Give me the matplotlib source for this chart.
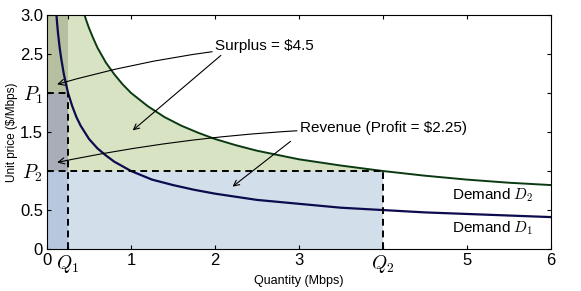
import matplotlib
matplotlib.use("Agg")
import matplotlib.pyplot as plt
import numpy as np

plt.rcParams['mathtext.fontset'] = 'cm'
plt.rcParams['font.family'] = ['Liberation Sans Narrow', 'Liberation Sans', 'DejaVu Sans']

# Demand curve D1
q_d1 = [0.11, 0.12, 0.13, 0.15, 0.17, 0.2, 0.25, 0.3, 0.35, 0.4, 0.5, 0.6, 0.7, 0.8, 1.0,
        1.25, 1.5, 1.75, 2.0, 2.5, 3.0, 3.5, 4.0, 4.5, 5.0, 5.5, 6.0]
p_d1 = [3.02, 2.89, 2.77, 2.58, 2.43, 2.24, 2.0, 1.83, 1.69, 1.58, 1.41, 1.29, 1.20, 1.12, 1.0,
        0.89, 0.82, 0.76, 0.71, 0.63, 0.58, 0.53, 0.5, 0.47, 0.45, 0.43, 0.41]
# Demand curve D2
q_d2 = [0.44, 0.47, 0.5, 0.55, 0.6, 0.7, 0.8, 0.9, 1.0, 1.2, 1.4, 1.6, 1.8, 2.0, 2.25, 2.5,
        3.0, 3.5, 4.0, 4.5, 5.0, 5.5, 6.0]
p_d2 = [3.02, 2.92, 2.83, 2.70, 2.58, 2.39, 2.24, 2.11, 2.0, 1.83, 1.69, 1.58, 1.49, 1.41, 1.33,
        1.26, 1.15, 1.07, 1.0, 0.94, 0.89, 0.85, 0.82]

Q1, P1 = 0.25, 2.0
Q2, P2 = 4.0, 1.0
x_ticks = [0, Q1, 1, 2, 3, Q2, 5, 6]
x_labels = ['0', r'$Q_1$', '1', '2', '3', r'$Q_2$', '5', '6']
y_ticks = [0, 0.5, P2, 1.5, P1, 2.5, 3.0]
y_labels = ['0', '0.5', r'$P_2$', '1.5', r'$P_1$', '2.5', '3.0']

fig = plt.figure(figsize=(5.81, 2.91), dpi=100)
ax = fig.add_axes([0.081, 0.144, 0.867, 0.805])

# Surplus (green) region
qa = np.array(q_d2)
pa = np.array(p_d2)
mask = qa <= Q2
xs = np.concatenate([[0.0], qa[mask]])
ys = np.concatenate([[3.0], np.minimum(pa[mask], 3.0)])
ax.fill_between(xs, P2, ys, color='#d7e3c3', lw=0)
# Revenue (blue) region
ax.fill_between([0, Q2], 0, P2, color='#d3deeb', lw=0)
# left column
ax.fill_between([0, Q1], P1, 3.0, color='#b6c0a0', lw=0)
ax.fill_between([0, Q1], P2, P1, color='#a9adb8', lw=0)
ax.fill_between([0, Q1], 0, P2, color='#b7c7de', lw=0)

# curves
ax.plot(q_d2, p_d2, color='#0b3a12', lw=1.4)
ax.plot(q_d1, p_d1, color='#0b0b4d', lw=1.6)

# dashed guides
dk = dict(color='black', lw=1.4, ls=(0, (3.5, 2.5)))
ax.plot([0, Q1], [P1, P1], **dk)
ax.plot([Q1, Q1], [0, P1], **dk)
ax.plot([0, Q2], [P2, P2], **dk)
ax.plot([Q2, Q2], [0, P2], **dk)

ax.set_xlim(0, 6)
ax.set_ylim(0, 3)
ax.set_xticks(x_ticks)
ax.set_xticklabels(x_labels)
ax.set_yticks(y_ticks)
ax.set_yticklabels(y_labels)
ax.tick_params(direction='in', top=True, right=True, labelsize=12, length=3, pad=3)
for lab in ax.get_xticklabels() + ax.get_yticklabels():
    if '$' in lab.get_text():
        lab.set_fontsize(14)
ax.set_xlabel('Quantity (Mbps)', fontsize=9, labelpad=0)
ax.set_ylabel('Unit price ($/Mbps)', fontsize=8.5, labelpad=1)

arr = dict(arrowstyle='->', color='black', lw=0.8, shrinkA=0, shrinkB=0,
           connectionstyle='arc3,rad=0.05')
ax.annotate('Surplus = \\$4.5', xy=(0.12, 2.11), xytext=(2.0, 2.6), fontsize=11,
            va='center', ha='left', arrowprops=arr)
ax.annotate('', xy=(1.02, 1.52), xytext=(2.07, 2.48), arrowprops=dict(arr, connectionstyle='arc3,rad=0'))
ax.annotate('Revenue (Profit = \\$2.25)', xy=(0.12, 1.11), xytext=(3.01, 1.55), fontsize=11,
            va='center', ha='left', arrowprops=arr)
ax.annotate('', xy=(2.21, 0.80), xytext=(2.9, 1.38), arrowprops=dict(arr, connectionstyle='arc3,rad=0'))

ax.text(4.82, 0.69, r'Demand $D_2$', fontsize=11, va='center', ha='left')
ax.text(4.82, 0.27, r'Demand $D_1$', fontsize=11, va='center', ha='left')

fig.savefig('out.png', dpi=100)
